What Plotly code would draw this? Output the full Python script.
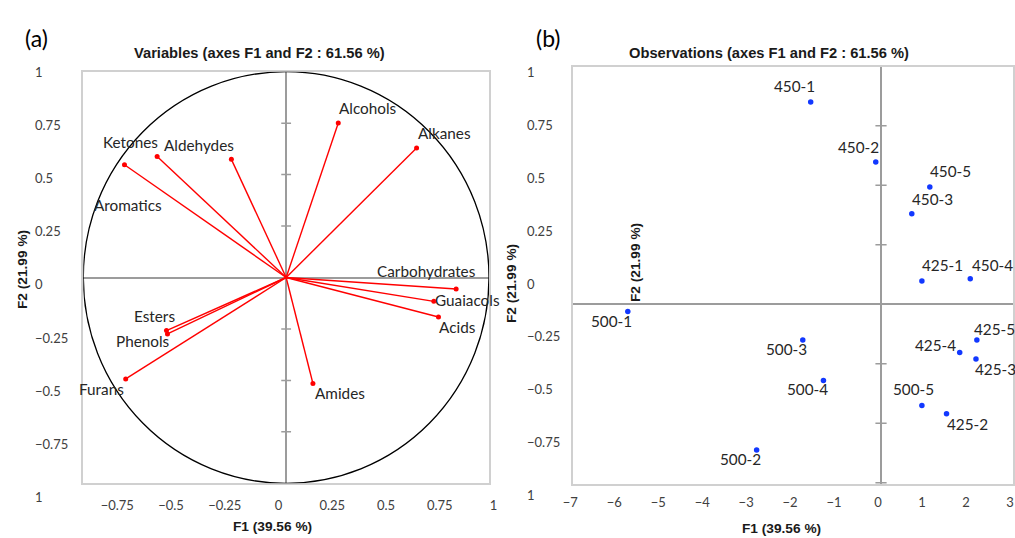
import plotly.graph_objects as go

W, H = 1015, 538

# ---------------- data ----------------
var_names = ["Alcohols", "Alkanes", "Ketones", "Aldehydes", "Aromatics", "Carbohydrates",
             "Guaiacols", "Acids", "Esters", "Phenols", "Furans", "Amides"]
var_f1 = [0.257, 0.643, -0.636, -0.270, -0.797, 0.838, 0.728, 0.751, -0.590, -0.585, -0.791, 0.132]
var_f2 = [0.751, 0.629, 0.588, 0.574, 0.548, -0.056, -0.116, -0.192, -0.258, -0.274, -0.493, -0.515]

obs_names = ["450-1", "450-2", "450-5", "450-3", "425-1", "450-4", "500-1", "500-3",
             "425-5", "425-4", "425-3", "500-4", "500-5", "425-2", "500-2"]
obs_f1 = [-1.60, -0.12, 1.11, 0.70, 0.93, 2.03, -5.76, -1.78, 2.18, 1.79, 2.16, -1.31, 0.93, 1.49, -2.83]
obs_f2 = [3.40, 2.39, 1.97, 1.52, 0.39, 0.43, -0.12, -0.60, -0.60, -0.81, -0.92, -1.28, -1.70, -1.84, -2.45]

a_x_tick_vals = [-0.75, -0.5, -0.25, 0, 0.25, 0.5, 0.75, 1]
a_x_tick_text = ["\u22120.75", "\u22120.5", "\u22120.25", "0", "0.25", "0.5", "0.75", "1"]
y_tick_vals = [1, 0.75, 0.5, 0.25, 0, -0.25, -0.5, -0.75, -1]
y_tick_text = ["1", "0.75", "0.5", "0.25", "0", "\u22120.25", "\u22120.5", "\u22120.75", "1"]
b_x_tick_vals = [-7, -6, -5, -4, -3, -2, -1, 0, 1, 2, 3]
a_axis_marks = [-0.75, -0.5, -0.25, 0.25, 0.5, 0.75]
b_axis_marks = [-3, -2, -1, 1, 2, 3]

title_a = "Variables (axes F1 and F2 : 61.56 %)"
title_b = "Observations (axes F1 and F2 : 61.56 %)"
x_title = "F1 (39.56 %)"
y_title = "F2 (21.99 %)"

# ---------------- style (label offsets in px: dx right, dy down) ----------------
var_offsets = {
    "Alcohols": (30, -15), "Alkanes": (28, -15), "Ketones": (-27, -14), "Aldehydes": (-32, -14),
    "Aromatics": (4, 40), "Carbohydrates": (-30, -18), "Guaiacols": (34, -1), "Acids": (19, 10),
    "Esters": (-12, -15), "Phenols": (-24, 7), "Furans": (-24, 10), "Amides": (27, 10),
}
obs_offsets = {
    "450-1": (-16, -16), "450-2": (-17, -15), "450-5": (21, -16), "450-3": (21, -15),
    "425-1": (21, -16), "450-4": (22, -14), "500-1": (-16, 10), "500-3": (-16, 9),
    "425-5": (18, -11), "425-4": (-24, -8), "425-3": (20, 10), "500-4": (-16, 9),
    "500-5": (-8, -16), "425-2": (21, 10), "500-2": (-16, 9),
}

LABEL_FONT = dict(family="Lato, Open Sans, sans-serif", size=15.3, color="#262626")
TICK_FONT = dict(family="Lato, Open Sans, sans-serif", size=13, color="#404040")
TITLE_FONT = dict(family="Liberation Sans, Arial, sans-serif", size=14.7, color="#1a1a1a")
AXTITLE_FONT = dict(family="Liberation Sans, Arial, sans-serif", size=13.7, color="#1a1a1a")
PANEL_FONT = dict(family="Lato, sans-serif", size=23, color="#000000")
FRAME = "#d0d0d0"
AXLINE = "#9c9c9c"


def px(p):
    return p / W


def py(p):
    return 1 - p / H


def lin_range(p0, p1, origin, per_unit, sign=1):
    # value range covering pixel span [p0, p1] for a mapping pixel = origin + sign*per_unit*v
    return [(p0 - origin) / (sign * per_unit), (p1 - origin) / (sign * per_unit)]


fig = go.Figure()

# ---- panel (a) vectors ----
lx, ly = [], []
for a, b in zip(var_f1, var_f2):
    lx += [0, a, None]
    ly += [0, b, None]
fig.add_trace(go.Scatter(x=lx, y=ly, mode="lines", line=dict(color="#ff0000", width=1.4),
                         xaxis="x", yaxis="y", hoverinfo="skip", showlegend=False))
fig.add_trace(go.Scatter(x=[0] * len(a_axis_marks), y=a_axis_marks, mode="markers",
                         marker=dict(symbol="line-ew", size=7, line=dict(color=AXLINE, width=1.5)),
                         xaxis="x", yaxis="y", hoverinfo="skip", showlegend=False))
fig.add_trace(go.Scatter(x=var_f1, y=var_f2, mode="markers",
                         marker=dict(color="#ff0000", size=5),
                         xaxis="x", yaxis="y", showlegend=False))

# ---- panel (b) observations ----
fig.add_trace(go.Scatter(x=[0] * len(b_axis_marks), y=b_axis_marks, mode="markers",
                         marker=dict(symbol="line-ew", size=8, line=dict(color=AXLINE, width=1.5)),
                         xaxis="x2", yaxis="y2", hoverinfo="skip", showlegend=False))
fig.add_trace(go.Scatter(x=obs_f1, y=obs_f2, mode="markers",
                         marker=dict(color="#1238ff", size=5.5),
                         xaxis="x2", yaxis="y2", showlegend=False))

# dummy traces to host the tick-label axes
fig.add_trace(go.Scatter(x=[None], y=[None], xaxis="x3", yaxis="y3", showlegend=False, hoverinfo="skip"))
fig.add_trace(go.Scatter(x=[None], y=[None], xaxis="x3", yaxis="y4", showlegend=False, hoverinfo="skip"))

common = dict(showgrid=False, showline=True, linecolor=FRAME, linewidth=1.5, mirror=True,
              zeroline=True, zerolinecolor=AXLINE, zerolinewidth=1.8, fixedrange=True,
              automargin=False)

annotations = []
for n, a, b in zip(var_names, var_f1, var_f2):
    dx, dy = var_offsets[n]
    annotations.append(dict(x=a, y=b, xref="x", yref="y", text=n, showarrow=False,
                            xanchor="center", yanchor="middle",
                            xshift=dx, yshift=-dy, font=LABEL_FONT))
for n, a, b in zip(obs_names, obs_f1, obs_f2):
    dx, dy = obs_offsets[n]
    annotations.append(dict(x=a, y=b, xref="x2", yref="y2", text=n, showarrow=False,
                            xanchor="center", yanchor="middle",
                            xshift=dx, yshift=-dy, font=LABEL_FONT))

# left-aligned y tick labels (pasted labels, on their own scales)
for v, t in zip(y_tick_vals, y_tick_text):
    annotations.append(dict(x=px(33), y=v, xref="paper", yref="y3", text=t, showarrow=False,
                            xanchor="left", yanchor="middle", font=TICK_FONT))
    annotations.append(dict(x=px(525), y=v, xref="paper", yref="y4", text=t, showarrow=False,
                            xanchor="left", yanchor="middle", font=TICK_FONT))


def paper_text(x, y, text, font, angle=0):
    return dict(x=px(x), y=py(y), xref="paper", yref="paper", text=text, showarrow=False,
                xanchor="center", yanchor="middle", textangle=angle, font=font)


annotations += [
    paper_text(36, 37.5, "(a)", PANEL_FONT),
    paper_text(548, 37.5, "(b)", PANEL_FONT),
    paper_text(259, 53, "<b>%s</b>" % title_a, TITLE_FONT),
    paper_text(769, 53, "<b>%s</b>" % title_b, TITLE_FONT),
    paper_text(272.5, 526, "<b>%s</b>" % x_title, AXTITLE_FONT),
    paper_text(781, 528, "<b>%s</b>" % x_title, AXTITLE_FONT),
    paper_text(22, 270, "<b>%s</b>" % y_title, AXTITLE_FONT, -90),
    paper_text(511, 284, "<b>%s</b>" % y_title, AXTITLE_FONT, -90),
    paper_text(635, 263, "<b>%s</b>" % y_title, AXTITLE_FONT, -90),
]

label_axis = dict(showline=False, showgrid=False, zeroline=False, fixedrange=True,
                  automargin=False)

fig.update_layout(
    width=W, height=H, margin=dict(l=0, r=0, t=0, b=0, autoexpand=False),
    paper_bgcolor="white", plot_bgcolor="rgba(0,0,0,0)",
    showlegend=False,
    xaxis=dict(domain=[px(83.3), px(489)], range=[-1, 1], anchor="y",
               showticklabels=False, ticks="", **common),
    yaxis=dict(domain=[py(483.3), py(71.7)], range=[-1, 1], anchor="x",
               showticklabels=False, ticks="", **common),
    xaxis2=dict(domain=[px(573.3), px(1012.9)], range=[-7, 3], anchor="y2",
                tickvals=b_x_tick_vals, ticks="outside", ticklen=6, tickcolor="rgba(0,0,0,0)",
                tickfont=TICK_FONT, ticklabeloverflow="allow", ticklabelshift=-3, **common),
    yaxis2=dict(domain=[py(484), py(66.7)],
                range=lin_range(484, 66.7, 304.3, 59.5, sign=-1), anchor="x2",
                showticklabels=False, ticks="", **common),
    # tick-label axes (as pasted in the reference)
    xaxis3=dict(domain=[px(60), px(510)], range=lin_range(60, 510, 278.5, 215),
                anchor="free", position=py(483.3),
                tickvals=a_x_tick_vals, ticktext=a_x_tick_text, ticklabeloverflow="allow",
                ticks="outside", ticklen=10, tickcolor="rgba(0,0,0,0)", tickfont=TICK_FONT,
                **label_axis),
    yaxis3=dict(domain=[py(510), py(60)], range=lin_range(510, 60, 284.4, 212.6, sign=-1),
                anchor="free", position=0, showticklabels=False, ticks="", **label_axis),
    yaxis4=dict(domain=[py(510), py(60)], range=lin_range(510, 60, 283.5, 211.8, sign=-1),
                anchor="free", position=0, showticklabels=False, ticks="", **label_axis),
    shapes=[dict(type="circle", xref="x", yref="y", x0=-1, x1=1, y0=-1, y1=1,
                 line=dict(color="#000000", width=1.3))],
    annotations=annotations,
)

fig.write_html("out.html", config={"displayModeBar": False},
               post_script="document.body.style.margin='0';")
